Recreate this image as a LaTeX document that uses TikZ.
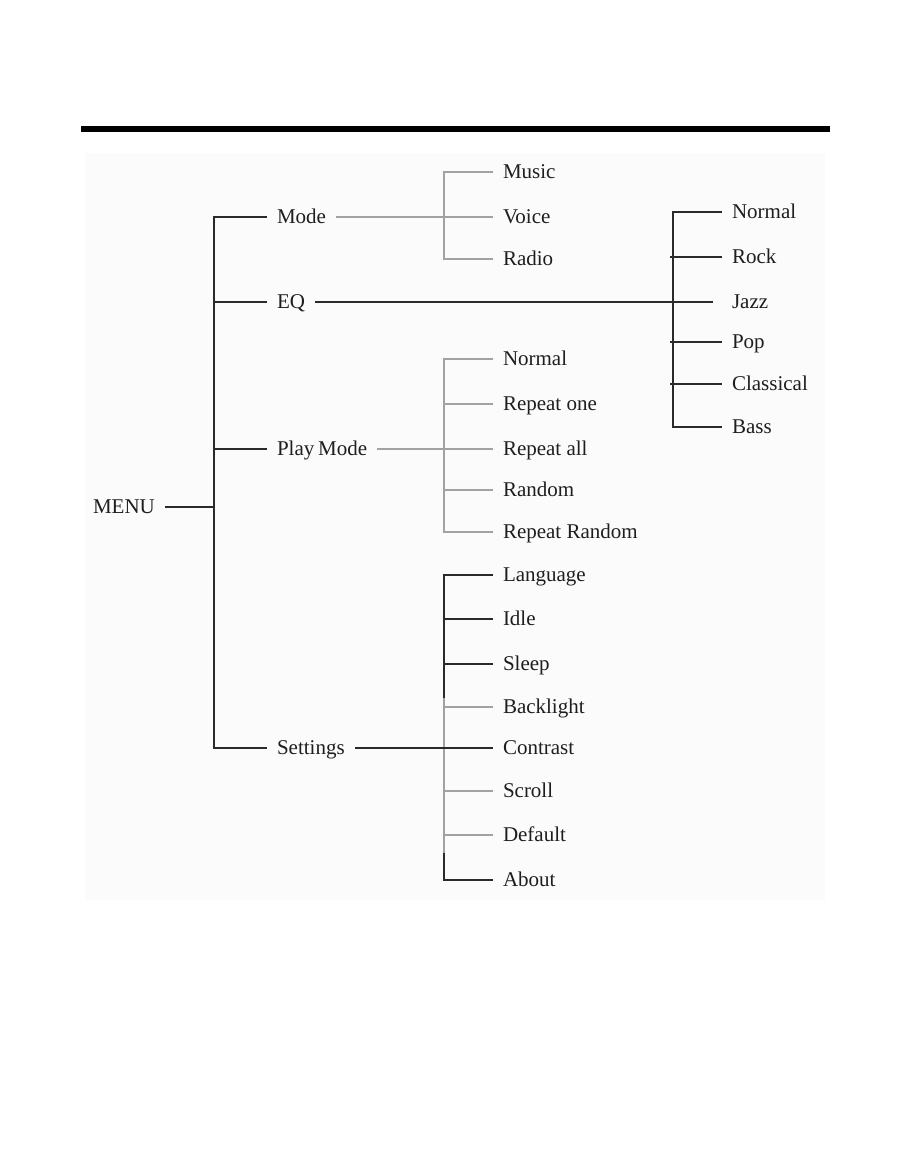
\documentclass[tikz,border=0pt]{standalone}
\usepackage{fontspec}
\setmainfont{Liberation Serif}
\definecolor{linegray}{HTML}{A2A2A2}
\definecolor{linedark}{HTML}{2A2A2A}
\definecolor{txt}{HTML}{1E1E1E}
\definecolor{bgpaper}{HTML}{FBFBFB}
\tikzset{
  lbl/.style={anchor=west, inner sep=0pt, outer xsep=7.5pt, outer ysep=0pt,
    font=\fontsize{15.75}{18}\selectfont, text=txt, text height=10pt, text depth=1pt},
  blk/.style={draw=linedark, line width=1.5pt},
  gry/.style={draw=linegray, line width=2pt},
}
\begin{document}
\begin{tikzpicture}[x=0.75pt,y=-0.75pt]
\useasboundingbox (0,0) rectangle (909,1149);
\fill[bgpaper] (85,153) rectangle (825,900);
\fill[black] (81,126) rectangle (830,132);

% level 0 and 1
\node[lbl] (menu) at (83,507) {MENU};
\node[lbl] (mode) at (267,217) {Mode};
\node[lbl] (eq) at (267,302) {EQ};
\node[lbl] (play) at (267,449) {Play\kern-1pt\ Mode};
\node[lbl] (settings) at (267,748) {Settings};
\coordinate (j0) at (214,507);

% Mode children
\node[lbl] (music) at (493,172) {Music};
\node[lbl] (voice) at (493,217) {Voice};
\node[lbl] (radio) at (493,259) {Radio};
\coordinate (mj) at (444,217);

% EQ children
\node[lbl] (enormal) at (722,212) {Normal};
\node[lbl] (rock) at (722,257) {Rock};
\node[lbl] (jazz) at (722,302) {Jazz};
\node[lbl] (pop) at (722,342) {Pop};
\node[lbl] (classical) at (722,384) {Classical};
\node[lbl] (bass) at (722,427) {Bass};
\coordinate (ej) at (673,302);

% Play Mode children
\node[lbl] (pnormal) at (493,359) {Normal};
\node[lbl] (rone) at (493,404) {Repeat one};
\node[lbl] (rall) at (493,449) {Repeat all};
\node[lbl] (random) at (493,490) {Random};
\node[lbl] (rrandom) at (493,532) {Repeat Random};
\coordinate (pj) at (444,449);

% Settings children
\node[lbl] (language) at (493,575) {Language};
\node[lbl] (idle) at (493,619) {Idle};
\node[lbl] (sleep) at (493,664) {Sleep};
\node[lbl] (backlight) at (493,707) {Backlight};
\node[lbl] (contrast) at (493,748) {Contrast};
\node[lbl] (scroll) at (493,791) {Scroll};
\node[lbl] (default) at (493,835) {Default};
\node[lbl] (about) at (493,880) {About};
\coordinate (sj) at (444,748);
\coordinate (sblk) at (444,698);
\coordinate (sblk2) at (444,853);

% MENU tree
\draw[blk] (menu.east) -- (j0);
\draw[blk] (mode.west) -- (mode.west -| j0) -- (settings.west -| j0) -- (settings.west);
\draw[blk] (eq.west) -- (eq.west -| j0);
\draw[blk] (play.west) -- (play.west -| j0);

% Mode subtree
\draw[gry] (mode.east) -- (voice.west);
\draw[gry] (music.west) -- (music.west -| mj) -- (radio.west -| mj) -- (radio.west);

% EQ subtree
\draw[blk] (eq.east) -- ([xshift=-7pt]jazz.west);
\draw[blk] (enormal.west) -- (enormal.west -| ej) -- (bass.west -| ej) -- (bass.west);
\draw[blk] ([xshift=-2.25pt]rock.west -| ej) -- (rock.west);
\draw[blk] ([xshift=-2.25pt]pop.west -| ej) -- (pop.west);
\draw[blk] ([xshift=-2.25pt]classical.west -| ej) -- (classical.west);

% Play Mode subtree
\draw[gry] (play.east) -- (rall.west);
\draw[gry] (pnormal.west) -- (pnormal.west -| pj) -- (rrandom.west -| pj) -- (rrandom.west);
\draw[gry] (rone.west -| pj) -- (rone.west);
\draw[gry] (random.west -| pj) -- (random.west);

% Settings subtree
\draw[gry] (sblk) -- (sblk2);
\draw[blk] (language.west) -- (language.west -| sj) -- (sblk);
\draw[blk] (sblk2) -- (about.west -| sj) -- (about.west);
\draw[blk] (idle.west -| sj) -- (idle.west);
\draw[blk] (sleep.west -| sj) -- (sleep.west);
\draw[gry] (backlight.west -| sj) -- (backlight.west);
\draw[gry] (scroll.west -| sj) -- (scroll.west);
\draw[gry] (default.west -| sj) -- (default.west);
\draw[blk] (settings.east) -- (contrast.west);
\end{tikzpicture}
\end{document}
